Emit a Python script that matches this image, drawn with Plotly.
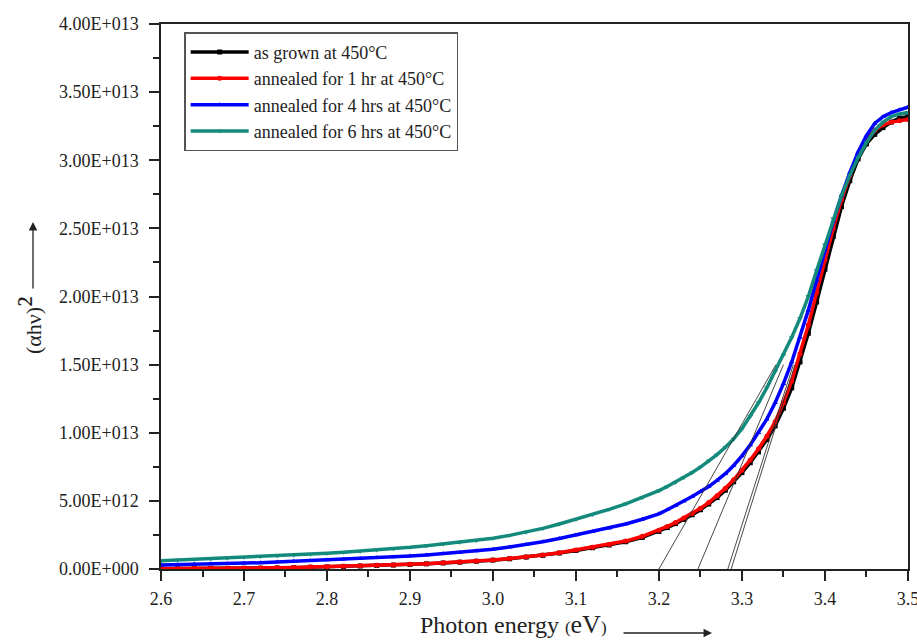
import plotly.graph_objects as go

# ---------------- data (values in units of 1E+12) ----------------
energy_low = [2.60, 2.62, 2.64, 2.66, 2.68, 2.70, 2.72, 2.74, 2.76, 2.78,
              2.80, 2.82, 2.84, 2.86, 2.88, 2.90, 2.92, 2.94, 2.96, 2.98,
              3.00, 3.02, 3.04, 3.06, 3.08, 3.10, 3.12, 3.14, 3.16, 3.18, 3.20]
energy_high = [3.21, 3.22, 3.23, 3.24, 3.25, 3.26, 3.27, 3.28, 3.29, 3.30,
               3.31, 3.32, 3.33, 3.34, 3.35, 3.36, 3.37, 3.38, 3.39, 3.40,
               3.41, 3.42, 3.43, 3.44, 3.45, 3.46, 3.47, 3.48, 3.49, 3.50]
energy = energy_low + energy_high

as_grown = [0.02, 0.02, 0.03, 0.03, 0.04, 0.05, 0.06, 0.08, 0.10, 0.13,
            0.16, 0.19, 0.22, 0.26, 0.29, 0.33, 0.38, 0.44, 0.50, 0.57,
            0.65, 0.75, 0.87, 1.00, 1.17, 1.36, 1.56, 1.76, 2.00, 2.32, 2.76,
            3.04, 3.33, 3.64, 3.98, 4.35, 4.77, 5.24, 5.78, 6.40, 7.08,
            7.80, 8.60, 9.50, 10.5, 11.8, 13.3, 15.2, 17.3, 19.6, 22.0,
            24.4, 26.6, 28.5, 30.1, 31.2, 31.9, 32.4, 32.8, 33.1, 33.2]

annealed_1hr = [0.03, 0.03, 0.04, 0.04, 0.05, 0.06, 0.07, 0.09, 0.11, 0.14,
                0.17, 0.20, 0.23, 0.27, 0.30, 0.34, 0.39, 0.45, 0.51, 0.58,
                0.66, 0.77, 0.89, 1.02, 1.20, 1.40, 1.60, 1.80, 2.05, 2.40, 2.84,
                3.12, 3.42, 3.74, 4.08, 4.45, 4.88, 5.37, 5.92, 6.55, 7.25,
                8.00, 8.82, 9.75, 10.8, 12.2, 13.8, 15.8, 17.9, 20.3, 22.7,
                25.0, 27.1, 28.9, 30.4, 31.5, 32.2, 32.6, 32.8, 32.9, 33.0]

annealed_4hr = [0.29, 0.31, 0.34, 0.36, 0.39, 0.42, 0.46, 0.51, 0.56, 0.61,
                0.66, 0.71, 0.77, 0.82, 0.88, 0.95, 1.03, 1.12, 1.22, 1.33,
                1.45, 1.62, 1.80, 2.00, 2.24, 2.50, 2.74, 3.00, 3.30, 3.65, 4.05,
                4.35, 4.65, 4.98, 5.32, 5.68, 6.05, 6.50, 7.00, 7.60, 8.30,
                9.10, 10.0, 11.0, 12.2, 13.6, 15.2, 17.0, 19.0, 21.2, 23.4,
                25.5, 27.4, 29.1, 30.6, 31.8, 32.7, 33.2, 33.5, 33.7, 33.9]

annealed_6hr = [0.61, 0.66, 0.71, 0.76, 0.81, 0.86, 0.92, 0.97, 1.03, 1.09,
                1.15, 1.23, 1.31, 1.40, 1.49, 1.59, 1.71, 1.83, 1.97, 2.10,
                2.25, 2.47, 2.72, 2.98, 3.30, 3.65, 4.00, 4.38, 4.78, 5.24, 5.75,
                6.05, 6.37, 6.71, 7.08, 7.48, 7.92, 8.40, 8.93, 9.55, 10.3,
                11.2, 12.2, 13.3, 14.5, 15.7, 17.0, 18.4, 20.0, 21.9, 23.8,
                25.7, 27.4, 28.9, 30.2, 31.3, 32.2, 32.8, 33.2, 33.4, 33.5]

series_names = ["as grown at 450\u00b0C", "annealed for 1 hr at 450\u00b0C",
                "annealed for 4 hrs at 450\u00b0C", "annealed for 6 hrs at 450\u00b0C"]

# Tauc extrapolation lines: x-intercepts and upper end points
tangent_x0 = [3.200, 3.247, 3.283, 3.287]
tangent_x1 = [3.341, 3.350, 3.362, 3.364]
tangent_y1 = [15.0, 15.0, 15.0, 15.0]

x_tickvals = [2.6, 2.7, 2.8, 2.9, 3.0, 3.1, 3.2, 3.3, 3.4, 3.5]
x_ticktext = ["2.6", "2.7", "2.8", "2.9", "3.0", "3.1", "3.2", "3.3", "3.4", "3.5"]
y_tickvals = [0, 5, 10, 15, 20, 25, 30, 35, 40]
y_ticktext = ["0.00E+000", "5.00E+012", "1.00E+013", "1.50E+013", "2.00E+013",
              "2.50E+013", "3.00E+013", "3.50E+013", "4.00E+013"]

# ---------------- figure ----------------
colors = ["#000000", "#ff0000", "#0000ff", "#138a7c"]
symbols = ["square", "circle", "triangle-up", "triangle-down"]
values = [as_grown, annealed_1hr, annealed_4hr, annealed_6hr]

fig = go.Figure()
for name, vals, c, s in zip(series_names, values, colors, symbols):
    fig.add_trace(go.Scatter(
        x=energy, y=vals, name=name, mode="lines+markers",
        line=dict(color=c, width=3.5),
        marker=dict(color=c, symbol=s, size=5),
    ))

for x0, x1, y1 in zip(tangent_x0, tangent_x1, tangent_y1):
    fig.add_trace(go.Scatter(
        x=[x0, x1], y=[0, y1], mode="lines", showlegend=False,
        line=dict(color="#333333", width=0.9), hoverinfo="skip",
    ))

serif = "Liberation Serif"
axis_common = dict(
    showline=True, linecolor="#222222", linewidth=1.5, mirror=True,
    ticks="outside", ticklen=10, tickwidth=1.5, tickcolor="#222222",
    showgrid=False, zeroline=False, automargin=False,
    tickfont=dict(family=serif, size=18, color="#222222"),
)
fig.update_xaxes(range=[2.6, 3.5001], tickvals=x_tickvals, ticktext=x_ticktext,
                 ticklabelstandoff=3, ticklabeloverflow="allow",
                 minor=dict(ticks="outside", ticklen=6, tickwidth=1.5,
                            tickcolor="#222222", dtick=0.05, tick0=2.6),
                 **axis_common)
fig.update_yaxes(range=[0, 40.001], tickvals=y_tickvals, ticktext=y_ticktext,
                 ticklabelstandoff=7, ticklabeloverflow="allow",
                 minor=dict(ticks="outside", ticklen=6, tickwidth=1.5,
                            tickcolor="#222222", dtick=2.5, tick0=0),
                 **axis_common)

fig.update_layout(
    width=917, height=643,
    margin=dict(l=161, r=9, t=24, b=74),
    plot_bgcolor="white", paper_bgcolor="white",
    font=dict(family=serif, color="#222222"),
    legend=dict(x=0.031, y=0.985, xanchor="left", yanchor="top",
                bgcolor="white", bordercolor="#555555", borderwidth=1.5,
                font=dict(family=serif, size=18, color="#222222"),
                itemwidth=58, tracegroupgap=0),
    annotations=[
        dict(text="Photon energy <span style='font-size:17px'>(</span>"
                  "<span style='font-size:26px'>eV</span>"
                  "<span style='font-size:17px'>)</span>",
             xref="paper", yref="paper", x=(418 - 161) / 747, y=-(641 - 569) / 545,
             xanchor="left", yanchor="bottom", showarrow=False,
             font=dict(family=serif, size=24, color="#222222")),
        dict(text="", xref="paper", yref="paper",
             x=(712 - 161) / 747, y=-(633 - 569) / 545,
             ax=-90, ay=0, axref="pixel", ayref="pixel",
             showarrow=True, arrowhead=2, arrowsize=1.3, arrowwidth=1.3,
             arrowcolor="#222222"),
        dict(text="(\u03b1h\u03bd)<span style='font-size:34px'>\u00b2</span>",
             xref="paper", yref="paper",
             x=(30 - 161) / 747, y=(569 - 326) / 545, textangle=-90,
             xanchor="center", yanchor="middle", showarrow=False,
             font=dict(family=serif, size=22, color="#222222")),
        dict(text="", xref="paper", yref="paper",
             x=(33 - 161) / 747, y=(569 - 222) / 545,
             ax=0, ay=68, axref="pixel", ayref="pixel",
             showarrow=True, arrowhead=2, arrowsize=1.3, arrowwidth=1.3,
             arrowcolor="#222222"),
    ],
)

fig.write_html("out.html")
